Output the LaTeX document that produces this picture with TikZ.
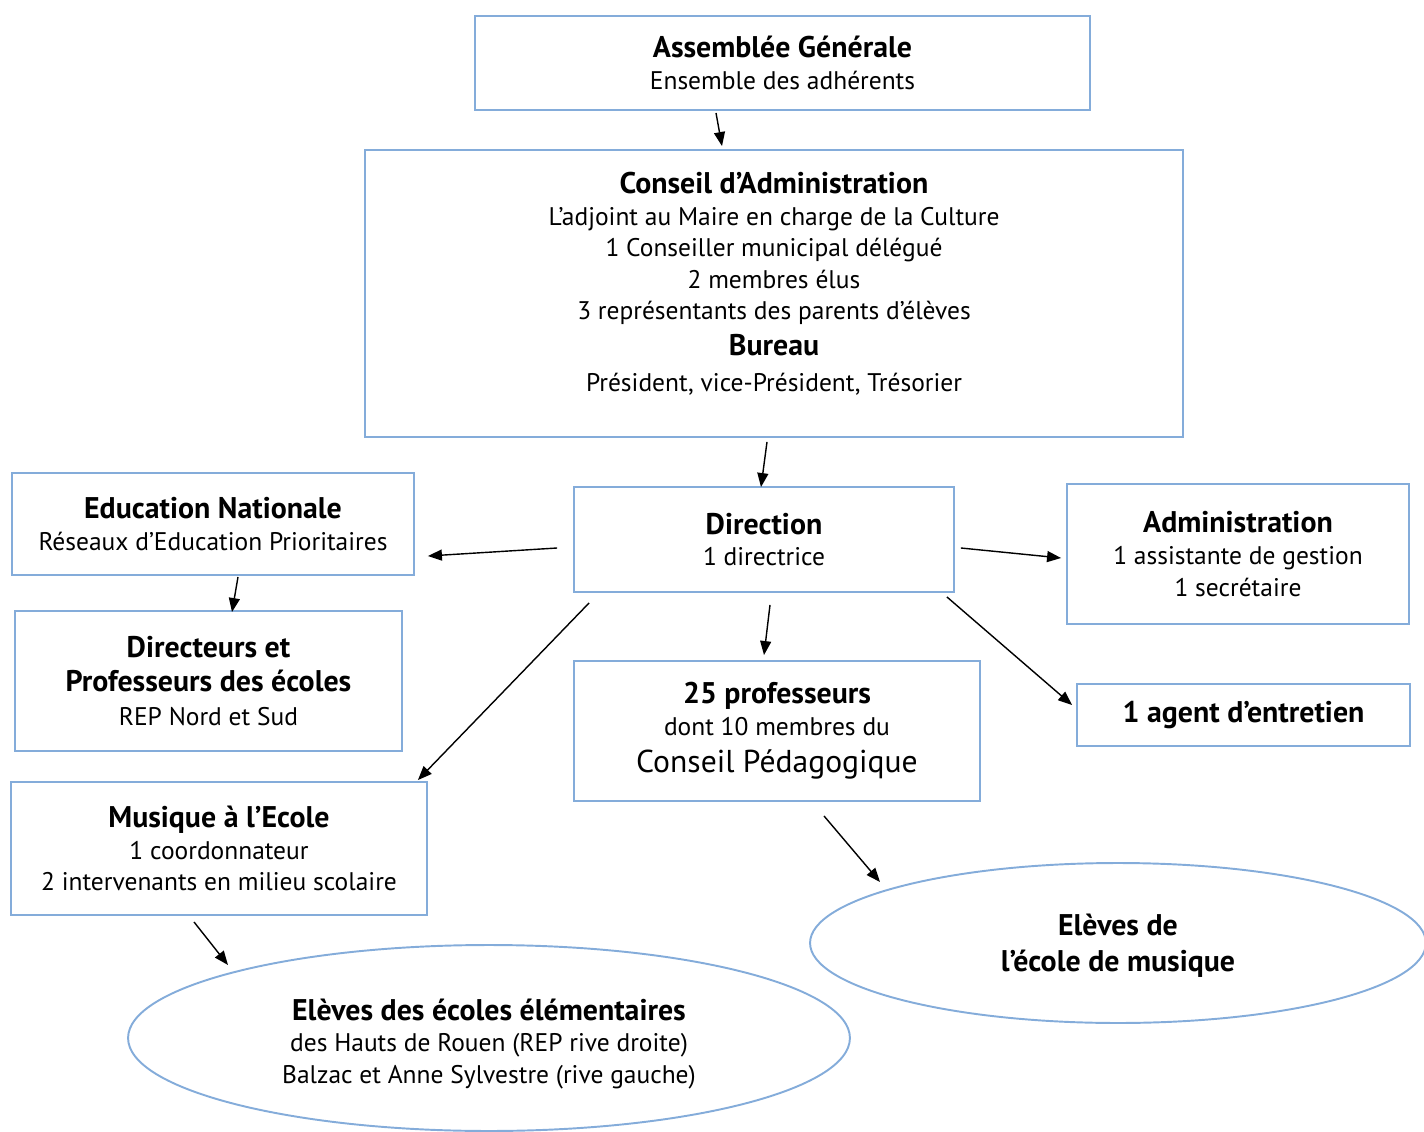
\documentclass[tikz,border=0pt]{standalone}
\usepackage{fontspec}
\setmainfont{PT Sans}
\usepackage{tikz}
\usetikzlibrary{arrows.meta}
\usetikzlibrary{calc}
\usetikzlibrary{shapes.geometric}

\definecolor{boxblue}{RGB}{132,172,218}
\newcommand{\ttl}[1]{{\fontsize{17}{20}\selectfont\bfseries #1}}

\tikzset{
  orgbox/.style={draw=boxblue, line width=1.1pt, rectangle, inner sep=0pt, align=center,
    font=\fontsize{14.5}{18}\selectfont},
  orgoval/.style={draw=boxblue, line width=1.1pt, ellipse, inner sep=0pt, align=center,
    font=\fontsize{14.5}{18}\selectfont},
  orgtext/.style={inner sep=0pt, align=center, font=\fontsize{14.5}{18}\selectfont},
  link/.style={-{Triangle[length=0.28cm,width=0.22cm]}, line width=0.8pt, black}
}

\begin{document}
\begin{tikzpicture}[x=0.02cm, y=-0.02cm]
    \useasboundingbox (0, 0) rectangle (1424, 1132);

    \node [orgbox, minimum width=12.3cm, minimum height=1.88cm] (assemblee) at (782.5, 63)
      {\ttl{Assemblée Générale}\\ Ensemble des adhérents};

    \node [orgbox, minimum width=16.36cm, minimum height=5.74cm] (conseil) at (774, 293.5)
      {\ttl{Conseil d’Administration}\\ L’adjoint au Maire en charge de la Culture\\
       1 Conseiller municipal délégué\\ 2 membres élus\\
       3 représentants des parents d’élèves\\[0.08cm] \ttl{Bureau}\\[0.08cm]
       Président, vice-Président, Trésorier\\[-0.16cm]};

    \node [orgbox, minimum width=8.04cm, minimum height=2.04cm] (education) at (213, 524)
      {\ttl{Education Nationale}\\ Réseaux d’Education Prioritaires};
    \node [orgbox, minimum width=7.6cm, minimum height=2.1cm] (direction) at (764, 539.5)
      {\ttl{Direction}\\ 1 directrice};
    \node [orgbox, minimum width=6.84cm, minimum height=2.8cm] (administration) at (1238, 554)
      {\ttl{Administration}\\ 1 assistante de gestion\\ 1 secrétaire};

    \node [orgbox, minimum width=7.74cm, minimum height=2.8cm] (directeurs) at (208.5, 681)
      {\ttl{Directeurs et}\\[0.04cm] \ttl{Professeurs des écoles}\\[0.04cm] REP Nord et Sud};
    \node [orgbox, minimum width=8.12cm, minimum height=2.8cm] (professeurs) at (777, 731)
      {\ttl{25 professeurs}\\ dont 10 membres du\\[0.12cm]
       {\fontsize{18}{21}\selectfont Conseil Pédagogique}};
    \node [orgbox, minimum width=6.66cm, minimum height=1.24cm] (agent) at (1243.5, 715)
      {\ttl{1 agent d’entretien}};
    \node [orgbox, minimum width=8.32cm, minimum height=2.66cm] (musique) at (219, 848.5)
      {\ttl{Musique à l’Ecole}\\ 1 coordonnateur\\ 2 intervenants en milieu scolaire};

    \node [orgoval, minimum width=12.32cm, minimum height=3.2cm] (ecole) at (1118, 943) {};
    \node [orgtext] (ecoletext) at (1118, 946)
      {\ttl{Elèves de}\\[0.08cm] \ttl{l’école de musique}};
    \node [orgoval, minimum width=14.44cm, minimum height=3.72cm] (eleves) at (489, 1038) {};
    \node [orgtext] (elevestext) at (489, 1044)
      {\ttl{Elèves des écoles élémentaires}\\ des Hauts de Rouen (REP rive droite)\\
       Balzac et Anne Sylvestre (rive gauche)};

    \draw [link] ($(assemblee.south)+(-66.5, 2)$) -- ($(conseil.north)+(-52, -3)$);
    \draw [link] ($(conseil.south)+(-7, 4)$) -- ($(direction.north)+(-3, 1)$);
    \draw [link] ($(direction.west)+(-16, 8.5)$) -- ($(education.east)+(13, 32)$);
    \draw [link] ($(direction.east)+(6, 8.5)$) -- ($(administration.west)+(-5, 4)$);
    \draw [link] ($(education.south)+(25, 1)$) -- ($(directeurs.north)+(23.5, 2)$);
    \draw [link] ($(direction.south)+(6, 12)$) -- ($(professeurs.north)+(-13, -5)$);
    \draw [link] ($(direction.south west)+(16, 10)$) -- ($(musique.north east)+(-10, -1)$);
    \draw [link] ($(direction.south east)+(-8, 4)$) -- ($(agent.west)+(-4, -10)$);
    \draw [link] ($(professeurs.south)+(47, 14)$) -- ($(ecole.center)+(-238, -61)$);
    \draw [link] ($(musique.south)+(-25, 6)$) -- ($(eleves.center)+(-261, -73)$);
\end{tikzpicture}
\end{document}
